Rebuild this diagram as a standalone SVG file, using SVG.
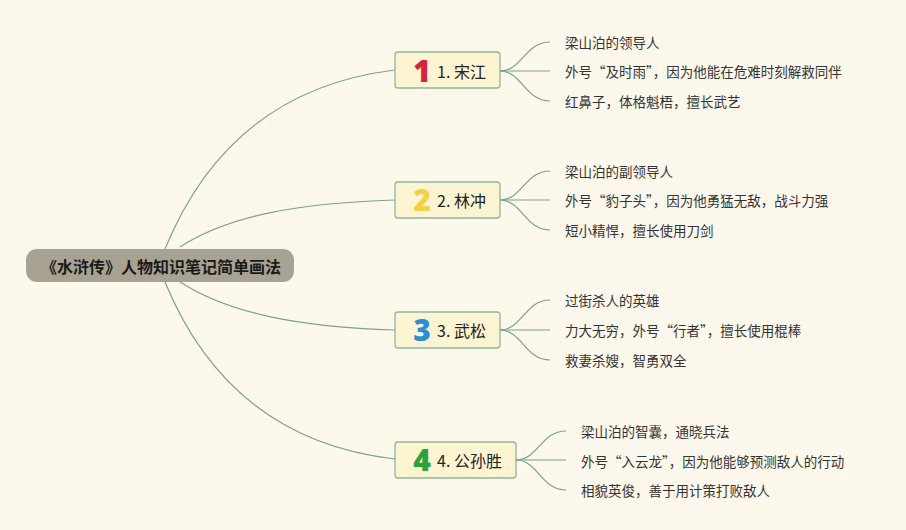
<svg xmlns="http://www.w3.org/2000/svg" width="906" height="530" viewBox="0 0 906 530">
<style>
.bg{fill:#fdf8ec}
.conn path{fill:none;stroke:#76a590;stroke-width:1.2}
.box{fill:#fdf4d2;stroke:#8db79a;stroke-width:1.3}
.lbl{font-family:"Noto Sans CJK SC","Noto Sans",sans-serif;font-size:16px;fill:#222;dominant-baseline:central}
.num{font-family:"Open Sans","DejaVu Sans",sans-serif;font-weight:800;font-size:30px;text-anchor:middle;dominant-baseline:central}
.leaf{font-family:"Noto Sans CJK SC","Noto Sans",sans-serif;font-size:13.5px;fill:#333;dominant-baseline:central}
.root-t{font-family:"Noto Sans CJK SC",sans-serif;font-size:16px;font-weight:bold;fill:#1a1a1a;dominant-baseline:central;text-anchor:middle}
</style>
<rect class="bg" x="0" y="0" width="906" height="530"/>
<g class="conn">
<path d="M165,249 Q230,90 395,70"/>
<path d="M180,247 C230,215 300,203 395,200"/>
<path d="M180,282 C230,314 300,327 395,330"/>
<path d="M165,282 Q230,440 395,459"/>
<path d="M500,71 C522,71 525,42 550,42"/>
<path d="M500,71 L550,71"/>
<path d="M500,71 C522,71 525,101 550,101"/>
<path d="M500,200 C522,200 525,171 550,171"/>
<path d="M500,200 L550,200"/>
<path d="M500,200 C522,200 525,230 550,230"/>
<path d="M500,330 C522,330 525,300 550,300"/>
<path d="M500,330 L550,330"/>
<path d="M500,330 C522,330 525,360 550,360"/>
<path d="M516,460 C538,460 541,431 566,431"/>
<path d="M516,460 L566,460"/>
<path d="M516,460 C538,460 541,490 566,490"/>
</g>
<g id="root">
<rect x="26" y="249" width="268" height="33" rx="11" fill="#a7a291"/>
<text class="root-t" x="161" y="265.5">《水浒传》人物知识笔记简单画法</text>
</g>
<g id="n1">
<rect class="box" x="395" y="52" width="105" height="36" rx="3"/>
<text class="num" x="422" y="70" fill="#d8223a">1</text>
<text class="lbl" x="437" y="71">1. 宋江</text>
</g>
<g id="n2">
<rect class="box" x="395" y="182" width="105" height="36" rx="3"/>
<text class="num" x="422" y="199" fill="#f4d043">2</text>
<text class="lbl" x="437" y="200">2. 林冲</text>
</g>
<g id="n3">
<rect class="box" x="395" y="312" width="105" height="36" rx="3"/>
<text class="num" x="422" y="329" fill="#2a8fd9">3</text>
<text class="lbl" x="437" y="330">3. 武松</text>
</g>
<g id="n4">
<rect class="box" x="395" y="442" width="121" height="36" rx="3"/>
<text class="num" x="422" y="459" fill="#2aa33b">4</text>
<text class="lbl" x="437" y="460">4. 公孙胜</text>
</g>
<g id="leaves1">
<text class="leaf" x="565" y="42">梁山泊的领导人</text>
<text class="leaf" x="565" y="71">外号“及时雨”，因为他能在危难时刻解救同伴</text>
<text class="leaf" x="565" y="101">红鼻子，体格魁梧，擅长武艺</text>
</g>
<g id="leaves2">
<text class="leaf" x="565" y="171">梁山泊的副领导人</text>
<text class="leaf" x="565" y="200">外号“豹子头”，因为他勇猛无敌，战斗力强</text>
<text class="leaf" x="565" y="230">短小精悍，擅长使用刀剑</text>
</g>
<g id="leaves3">
<text class="leaf" x="565" y="300">过街杀人的英雄</text>
<text class="leaf" x="565" y="330">力大无穷，外号“行者”，擅长使用棍棒</text>
<text class="leaf" x="565" y="360">救妻杀嫂，智勇双全</text>
</g>
<g id="leaves4">
<text class="leaf" x="581" y="431">梁山泊的智囊，通晓兵法</text>
<text class="leaf" x="581" y="461">外号“入云龙”，因为他能够预测敌人的行动</text>
<text class="leaf" x="581" y="490">相貌英俊，善于用计策打败敌人</text>
</g>
</svg>
